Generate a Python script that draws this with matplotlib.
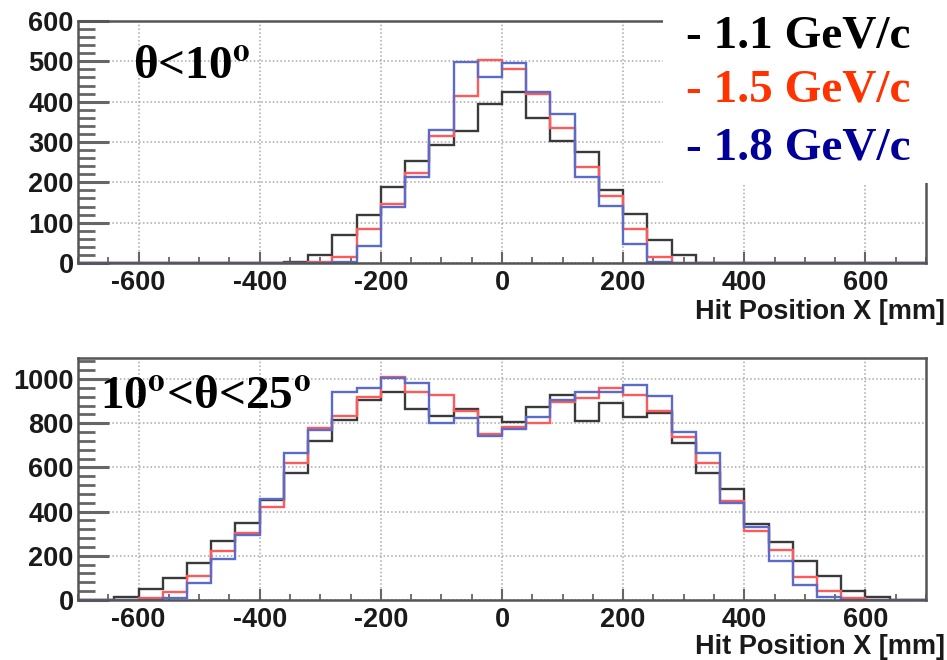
import numpy as np
import matplotlib
matplotlib.use("Agg")
import matplotlib.pyplot as plt
from matplotlib.patches import Rectangle
from matplotlib.ticker import MultipleLocator

plt.rcParams["mathtext.fontset"] = "stix"
plt.rcParams["axes.unicode_minus"] = False

# bin edges: 40 mm bins, -720 .. 720 mm (36 bins)
edges = np.arange(-720, 721, 40)

# theta < 10 deg
top_11 = [0, 0, 0, 0, 0, 0, 0, 0, 0, 3, 21, 70, 118, 188, 254, 293, 328, 394,
          425, 359, 303, 274, 180, 122, 56, 20, 0, 0, 0, 0, 0, 0, 0, 0, 0, 0]
top_15 = [0, 0, 0, 0, 0, 0, 0, 0, 0, 0, 2, 16, 85, 147, 223, 315, 414, 503,
          482, 418, 335, 239, 165, 85, 15, 0, 0, 0, 0, 0, 0, 0, 0, 0, 0, 0]
top_18 = [0, 0, 0, 0, 0, 0, 0, 0, 0, 0, 0, 2, 41, 140, 214, 330, 499, 462,
          497, 425, 369, 214, 142, 48, 2, 0, 0, 0, 0, 0, 0, 0, 0, 0, 0, 0]

# 10 deg < theta < 25 deg
bot_11 = [0, 0, 12, 51, 98, 169, 269, 347, 452, 573, 721, 815, 905, 940, 865, 833, 863, 827,
          807, 875, 928, 812, 893, 830, 845, 709, 573, 501, 344, 264, 178, 110, 41, 15, 0, 0]
bot_15 = [0, 0, 0, 7, 35, 109, 222, 305, 423, 622, 777, 833, 920, 1011, 943, 928, 857, 751,
          785, 800, 898, 913, 958, 928, 856, 736, 622, 448, 314, 226, 106, 42, 8, 0, 0, 0]
bot_18 = [0, 0, 0, 0, 7, 78, 184, 294, 457, 667, 770, 943, 958, 1003, 981, 803, 822, 742,
          773, 827, 905, 939, 943, 973, 923, 762, 667, 441, 332, 178, 68, 15, 2, 0, 0, 0]

line_colors = ["#3a3a3a", "#ff5a5a", "#5a6cc8"]
text_colors = ["#000000", "#ff3300", "#000099"]
momenta = ["1.1 GeV/c", "1.5 GeV/c", "1.8 GeV/c"]

W, H = 947, 660
fig = plt.figure(figsize=(W / 100, H / 100), dpi=100)


def px(x, y):
    return x / W, 1 - y / H


def setup(ax, ymax, ymajor, yminor):
    ax.set_xlim(-700, 700)
    ax.set_ylim(0, ymax)
    ax.xaxis.set_major_locator(MultipleLocator(200))
    ax.xaxis.set_minor_locator(MultipleLocator(50))
    ax.yaxis.set_major_locator(MultipleLocator(ymajor))
    ax.yaxis.set_minor_locator(MultipleLocator(yminor))
    ax.grid(True, which="major", color="#a8a8a8", linestyle=(0, (1, 1.5)), linewidth=1.1)
    ax.set_axisbelow(True)
    for s in ax.spines.values():
        s.set_color("#555555")
        s.set_linewidth(1.8)
    ax.tick_params(axis="y", which="major", direction="in", length=22, width=2.2,
                   color="#666666", pad=3)
    ax.tick_params(axis="y", which="minor", direction="in", length=12, width=2.0,
                   color="#666666")
    ax.tick_params(axis="x", which="major", direction="in", length=8, width=1.5,
                   color="#666666", pad=5)
    ax.tick_params(axis="x", which="minor", direction="in", length=4, width=1.3,
                   color="#666666")
    for lab in ax.get_xticklabels() + ax.get_yticklabels():
        lab.set_fontfamily("Liberation Sans")
        lab.set_fontweight("bold")
        lab.set_fontsize(19.5)
        lab.set_color("#1a1a1a")


ax1 = fig.add_axes([78 / W, 1 - 263 / H, 848 / W, 242 / H])
ax2 = fig.add_axes([78 / W, 1 - 600 / H, 848 / W, 242 / H])

for ax, series in [(ax1, [top_11, top_15, top_18]), (ax2, [bot_11, bot_15, bot_18])]:
    for vals, c in zip(series, line_colors):
        ax.stairs(vals, edges, color=c, linewidth=1.7)

setup(ax1, 600, 100, 20)
setup(ax2, 1095, 200, 40)

# x labels
for ycen in (312, 647):
    fig.text(*px(945, ycen), "Hit Position X [mm]", ha="right", va="center",
             fontfamily="Liberation Sans", fontweight="bold", fontsize=19.5, color="#1a1a1a")

# angle labels
fig.text(*px(133, 78), "θ<10$^{\\mathbf{o}}$", ha="left", va="baseline",
         fontfamily="Liberation Serif", fontweight="bold", fontsize=34)
fig.text(*px(100, 408), "10$^{\\mathbf{o}}$<θ<25$^{\\mathbf{o}}$", ha="left", va="baseline",
         fontfamily="Liberation Serif", fontweight="bold", fontsize=34)

# white legend block covering the top-right corner
fig.add_artist(Rectangle(px(663, 183), 284 / W, 183 / H, transform=fig.transFigure,
                         facecolor="white", edgecolor="none", zorder=5))
for lbl, c, yb in zip(momenta, text_colors, [47, 102, 160]):
    fig.text(*px(686, yb), "- " + lbl, ha="left", va="baseline", color=c,
             fontfamily="Liberation Serif", fontweight="bold", fontsize=34, zorder=6)

fig.savefig("out.png", dpi=100)
